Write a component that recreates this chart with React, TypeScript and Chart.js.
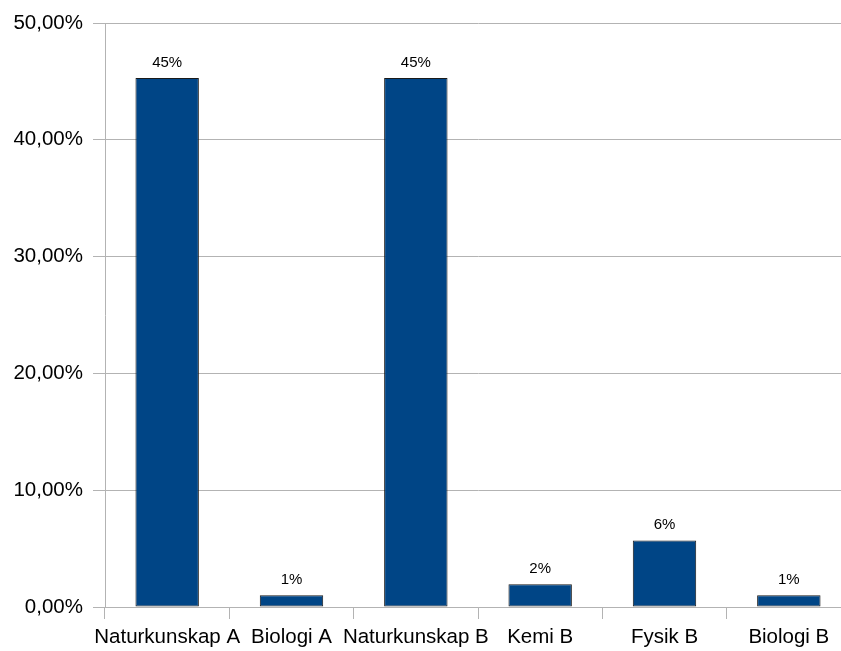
import React, { useEffect, useRef } from "react";
import { Chart, registerables } from "chart.js";

Chart.register(...registerables);

const categories = ["Naturkunskap A", "Biologi A", "Naturkunskap B", "Kemi B", "Fysik B", "Biologi B"];
const values = [45.3, 1.0, 45.3, 1.94, 5.7, 1.0];
const barLabels = ["45%", "1%", "45%", "2%", "6%", "1%"];
const yTicks = [0, 10, 20, 30, 40, 50];

const dataLabelPlugin = {
  id: "dataLabels",
  afterDatasetsDraw(chart: any) {
    const ctx = chart.ctx;
    const meta = chart.getDatasetMeta(0);
    ctx.save();
    ctx.font = "15px 'Liberation Sans', Arial, sans-serif";
    ctx.fillStyle = "#000000";
    ctx.textAlign = "center";
    ctx.textBaseline = "alphabetic";
    meta.data.forEach((bar: any, i: number) => {
      ctx.fillText(barLabels[i], bar.x, bar.y - 11);
    });
    ctx.restore();
  },
};

export default function App() {
  const ref = useRef<HTMLCanvasElement>(null);
  useEffect(() => {
    if (!ref.current) return;
    const chart = new Chart(ref.current, {
      type: "bar",
      data: {
        labels: categories,
        datasets: [
          {
            data: values,
            backgroundColor: "#004586",
            borderColor: "#1a1a1a",
            borderWidth: 1,
            borderSkipped: false,
            barPercentage: 0.51,
            categoryPercentage: 1,
          },
        ],
      },
      options: {
        responsive: false,
        animation: false,
        layout: { padding: { top: 23, right: 0, bottom: 0, left: 0 } },
        plugins: { legend: { display: false }, tooltip: { enabled: false } },
        scales: {
          x: {
            offset: true,
            grid: {
              display: true,
              offset: true,
              drawOnChartArea: false,
              drawTicks: true,
              tickLength: 12,
              color: "#b3b3b3",
            },
            border: { display: true, color: "#b3b3b3" },
            ticks: {
              color: "#000000",
              font: { family: "'Liberation Sans', Arial, sans-serif", size: 20.5 },
              padding: 6,
              maxRotation: 0,
              autoSkip: false,
            },
            afterFit(scale: any) {
              scale.height = 44;
            },
          },
          y: {
            min: 0,
            max: 50,
            afterBuildTicks(scale: any) {
              scale.ticks = yTicks.map((v) => ({ value: v }));
            },
            grid: { color: "#b3b3b3", tickLength: 12 },
            border: { display: true, color: "#b3b3b3" },
            ticks: {
              color: "#000000",
              font: { family: "'Liberation Sans', Arial, sans-serif", size: 20.5 },
              padding: 10,
              callback: (v: any) => Number(v).toFixed(2).replace(".", ",") + "%",
            },
            afterFit(scale: any) {
              scale.width = 105;
            },
          },
        },
      },
      plugins: [dataLabelPlugin],
    });
    return () => chart.destroy();
  }, []);
  return (
    <div style={{ position: "fixed", left: 0, top: 0, width: 841, height: 651, overflow: "hidden", background: "#fff" }}>
      <canvas ref={ref} width={851} height={651} style={{ width: 851, height: 651, display: "block" }} />
    </div>
  );
}
